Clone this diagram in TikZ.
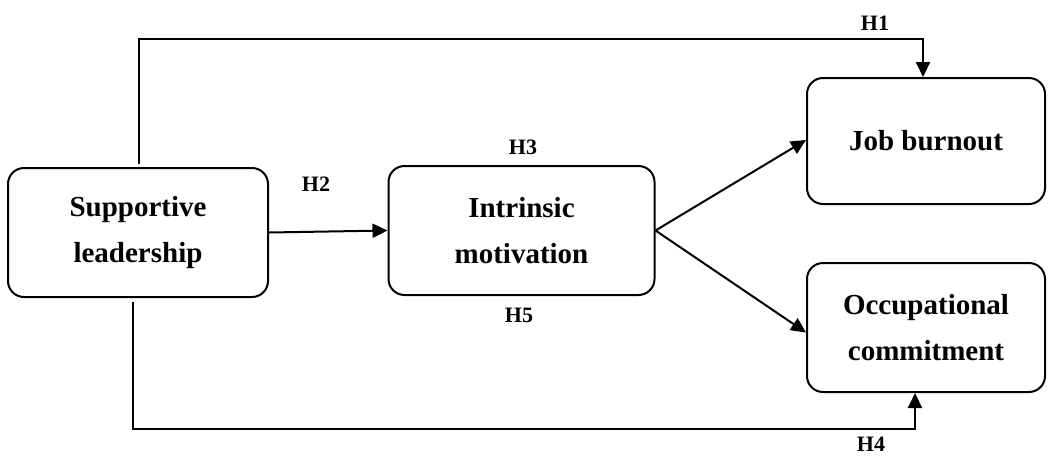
\documentclass[tikz,border=0pt]{standalone}
\usepackage{fontspec}
\setmainfont{Liberation Serif}
\usetikzlibrary{arrows.meta,calc}
\tikzset{
  box/.style={draw, line width=2pt, rounded corners=16pt, inner sep=0pt, align=center,
    font=\fontsize{29}{46}\selectfont\bfseries},
  arr/.style={line width=2pt, -{Triangle[length=15pt,width=14pt]}},
  hlab/.style={font=\fontsize{22}{24}\selectfont\bfseries, inner sep=0pt}
}
\begin{document}
\begin{tikzpicture}[x=1pt,y=-1pt]
\useasboundingbox (0,0) rectangle (1048,456);
\node[box, minimum width=260pt, minimum height=129pt] (sl) at (138,232.5) {Supportive\\leadership};
\node[box, minimum width=266pt, minimum height=129pt] (im) at (521.5,230.5) {Intrinsic\\motivation};
\node[box, minimum width=238pt, minimum height=126pt] (jb) at (926,141) {Job burnout};
\node[box, minimum width=238pt, minimum height=129pt] (oc) at (926,327.5) {Occupational\\commitment};
\coordinate (a1) at (139,164);
\coordinate (t1) at (923,39);
\coordinate (a4) at (133,302);
\coordinate (b4) at (915,429);
\draw[arr] (a1) |- (t1) -- (jb.north -| t1);
\draw[arr] (a4) |- (b4) -- (oc.south -| b4);
\draw[arr] (sl.east) -- (im.west);
\draw[arr] (im.east) -- ($(jb.west)+(0,-1)$);
\draw[arr] (im.east) -- ($(oc.west)+(0,5)$);
\node[hlab] (h1) at (875,23) {H1};
\node[hlab] (h2) at (316,184) {H2};
\node[hlab] (h3) at (523,147) {H3};
\node[hlab] (h5) at (519,315) {H5};
\node[hlab] (h4) at (871,444) {H4};
\end{tikzpicture}
\end{document}
